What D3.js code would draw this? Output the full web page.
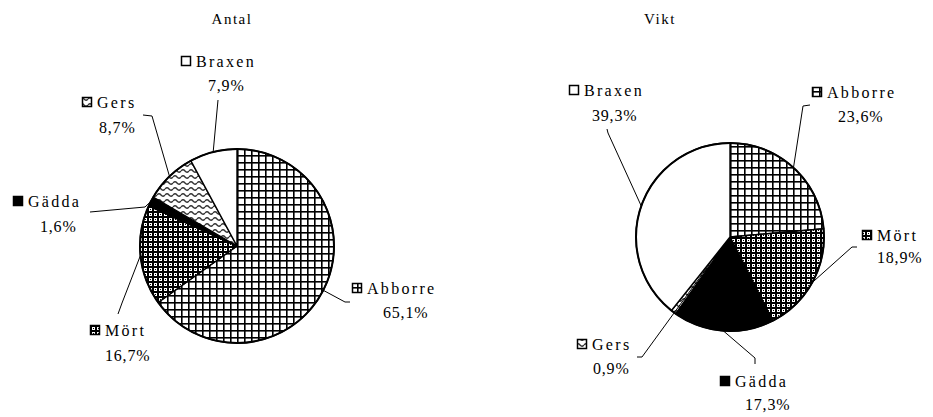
<!DOCTYPE html>
<html><head><meta charset="utf-8">
<script src="https://cdn.jsdelivr.net/npm/d3@7"></script>
<style>
html,body{margin:0;padding:0;background:#fff;}
svg{display:block;}
</style></head>
<body>
<script>
// ---- data ----
const titles = ["Antal", "Vikt"];
const categoriesAntal = ["Abborre", "Mört", "Gädda", "Gers", "Braxen"];
const valuesAntal = [65.1, 16.7, 1.6, 8.7, 7.9];
const categoriesVikt = ["Abborre", "Mört", "Gädda", "Gers", "Braxen"];
const valuesVikt = [23.6, 18.9, 17.3, 0.9, 39.3];

// ---- layout (positions only) ----
const FONT = "Liberation Serif";
const W = 933, H = 417;
const charts = [
  {title: titles[0], cats: categoriesAntal, vals: valuesAntal, cx: 237, cy: 246, r: 97, titleX: 232, titleY: 24,
   labels: {
     "Braxen": {nx:196, ny:67, px:208, py:91, lead:[[218,100]]},
     "Gers":   {nx:97,  ny:108, px:99, py:133, lead:[[152,116],[143,115]]},
     "Gädda":  {nx:28,  ny:207, px:40, py:232, lead:[[145,207],[90,212]]},
     "Mört":   {nx:105, ny:336, px:105, py:361, lead:[[122,303],[118,314]]},
     "Abborre":{nx:367, ny:294, px:383, py:318, lead:[[345,302],[350,302]]}
   }},
  {title: titles[1], cats: categoriesVikt, vals: valuesVikt, cx: 730, cy: 237, r: 94, titleX: 660, titleY: 24,
   labels: {
     "Braxen": {nx:584, ny:96, px:592, py:121, lead:[[608,133],[607,129]]},
     "Abborre":{nx:827, ny:98, px:838, py:122, lead:[[803,106],[810,105]]},
     "Mört":   {nx:877, ny:241, px:877, py:263, lead:[[852,247],[857,247]]},
     "Gers":   {nx:592, ny:350, px:593, py:374, lead:[[642,357],[637,357]], inner:35},
     "Gädda":  {nx:735, ny:387, px:745, py:410, lead:[[755,358],[755,364]]}
   }}
];

const svg = d3.select("body").append("svg").attr("width", W).attr("height", H);
const defs = svg.append("defs");

// patterns
const pGrid = defs.append("pattern").attr("id","pAbborre").attr("patternUnits","userSpaceOnUse").attr("width",7).attr("height",7);
pGrid.append("rect").attr("width",7).attr("height",7).attr("fill","#fff");
pGrid.append("rect").attr("x",0).attr("y",0).attr("width",7).attr("height",1.6).attr("fill","#000");
pGrid.append("rect").attr("x",0).attr("y",0).attr("width",1.6).attr("height",7).attr("fill","#000");

const pChk = defs.append("pattern").attr("id","pMört").attr("patternUnits","userSpaceOnUse").attr("width",5).attr("height",5);
pChk.append("rect").attr("width",5).attr("height",5).attr("fill","#fff");
pChk.append("rect").attr("width",5).attr("height",2).attr("fill","#000");
pChk.append("rect").attr("width",2).attr("height",5).attr("fill","#000");
pChk.append("rect").attr("x",3).attr("y",3).attr("width",1).attr("height",1).attr("fill","#000");

const pWave = defs.append("pattern").attr("id","pGers").attr("patternUnits","userSpaceOnUse").attr("width",8).attr("height",6);
pWave.append("rect").attr("width",8).attr("height",6).attr("fill","#fff");
pWave.append("path").attr("d","M0,3 Q2,0.5 4,3 T8,3").attr("fill","none").attr("stroke","#333").attr("stroke-width",1.3);

const fills = {"Abborre":"url(#pAbborre)","Mört":"url(#pMört)","Gädda":"#000","Gers":"url(#pGers)","Braxen":"#fff"};

const fmt = v => v.toFixed(1).replace(".", ",") + "%";

charts.forEach(c => {
  const data = c.cats.map((k,i) => ({cat:k, val:c.vals[i]}));
  const pie = d3.pie().sort(null).value(d => d.val).startAngle(0).endAngle(2*Math.PI);
  const arcs = pie(data);
  const arc = d3.arc().innerRadius(0).outerRadius(c.r);
  const g = svg.append("g").attr("transform", `translate(${c.cx},${c.cy})`);

  g.selectAll("path.slice").data(arcs).join("path")
    .attr("class","slice")
    .attr("d", arc)
    .attr("fill", d => fills[d.data.cat])
    .attr("stroke","#000").attr("stroke-width",1.4).attr("stroke-linejoin","round");
  g.append("circle").attr("r", c.r).attr("fill","none").attr("stroke","#000").attr("stroke-width",2);

  // title
  svg.append("text").attr("x", c.titleX).attr("y", c.titleY).attr("text-anchor","middle")
    .attr("font-family", FONT).attr("font-size",15).attr("letter-spacing",1.5).attr("fill","#000").text(c.title);

  // labels + leader lines
  arcs.forEach(a => {
    const L = c.labels[a.data.cat];
    const mid = (a.startAngle + a.endAngle) / 2;
    const rr = L.inner || c.r;
    const p0 = [c.cx + rr * Math.sin(mid), c.cy - rr * Math.cos(mid)];
    const pts = [p0].concat(L.lead);
    svg.append("path").attr("d", d3.line()(pts)).attr("fill","none").attr("stroke","#000").attr("stroke-width",1);

    svg.append("rect").attr("x", L.nx - 14.5).attr("y", L.ny - 10.5).attr("width",9).attr("height",9)
      .attr("fill", fills[a.data.cat]).attr("stroke","#000").attr("stroke-width",1.5);
    svg.append("text").attr("x", L.nx).attr("y", L.ny).attr("font-family", FONT).attr("font-size",16).attr("letter-spacing",2.3)
      .attr("fill","#000").text(a.data.cat);
    svg.append("text").attr("x", L.px).attr("y", L.py).attr("font-family", FONT).attr("font-size",16).attr("letter-spacing",0.8)
      .attr("fill","#000").text(fmt(a.data.val));
  });
});
</script>
</body></html>
